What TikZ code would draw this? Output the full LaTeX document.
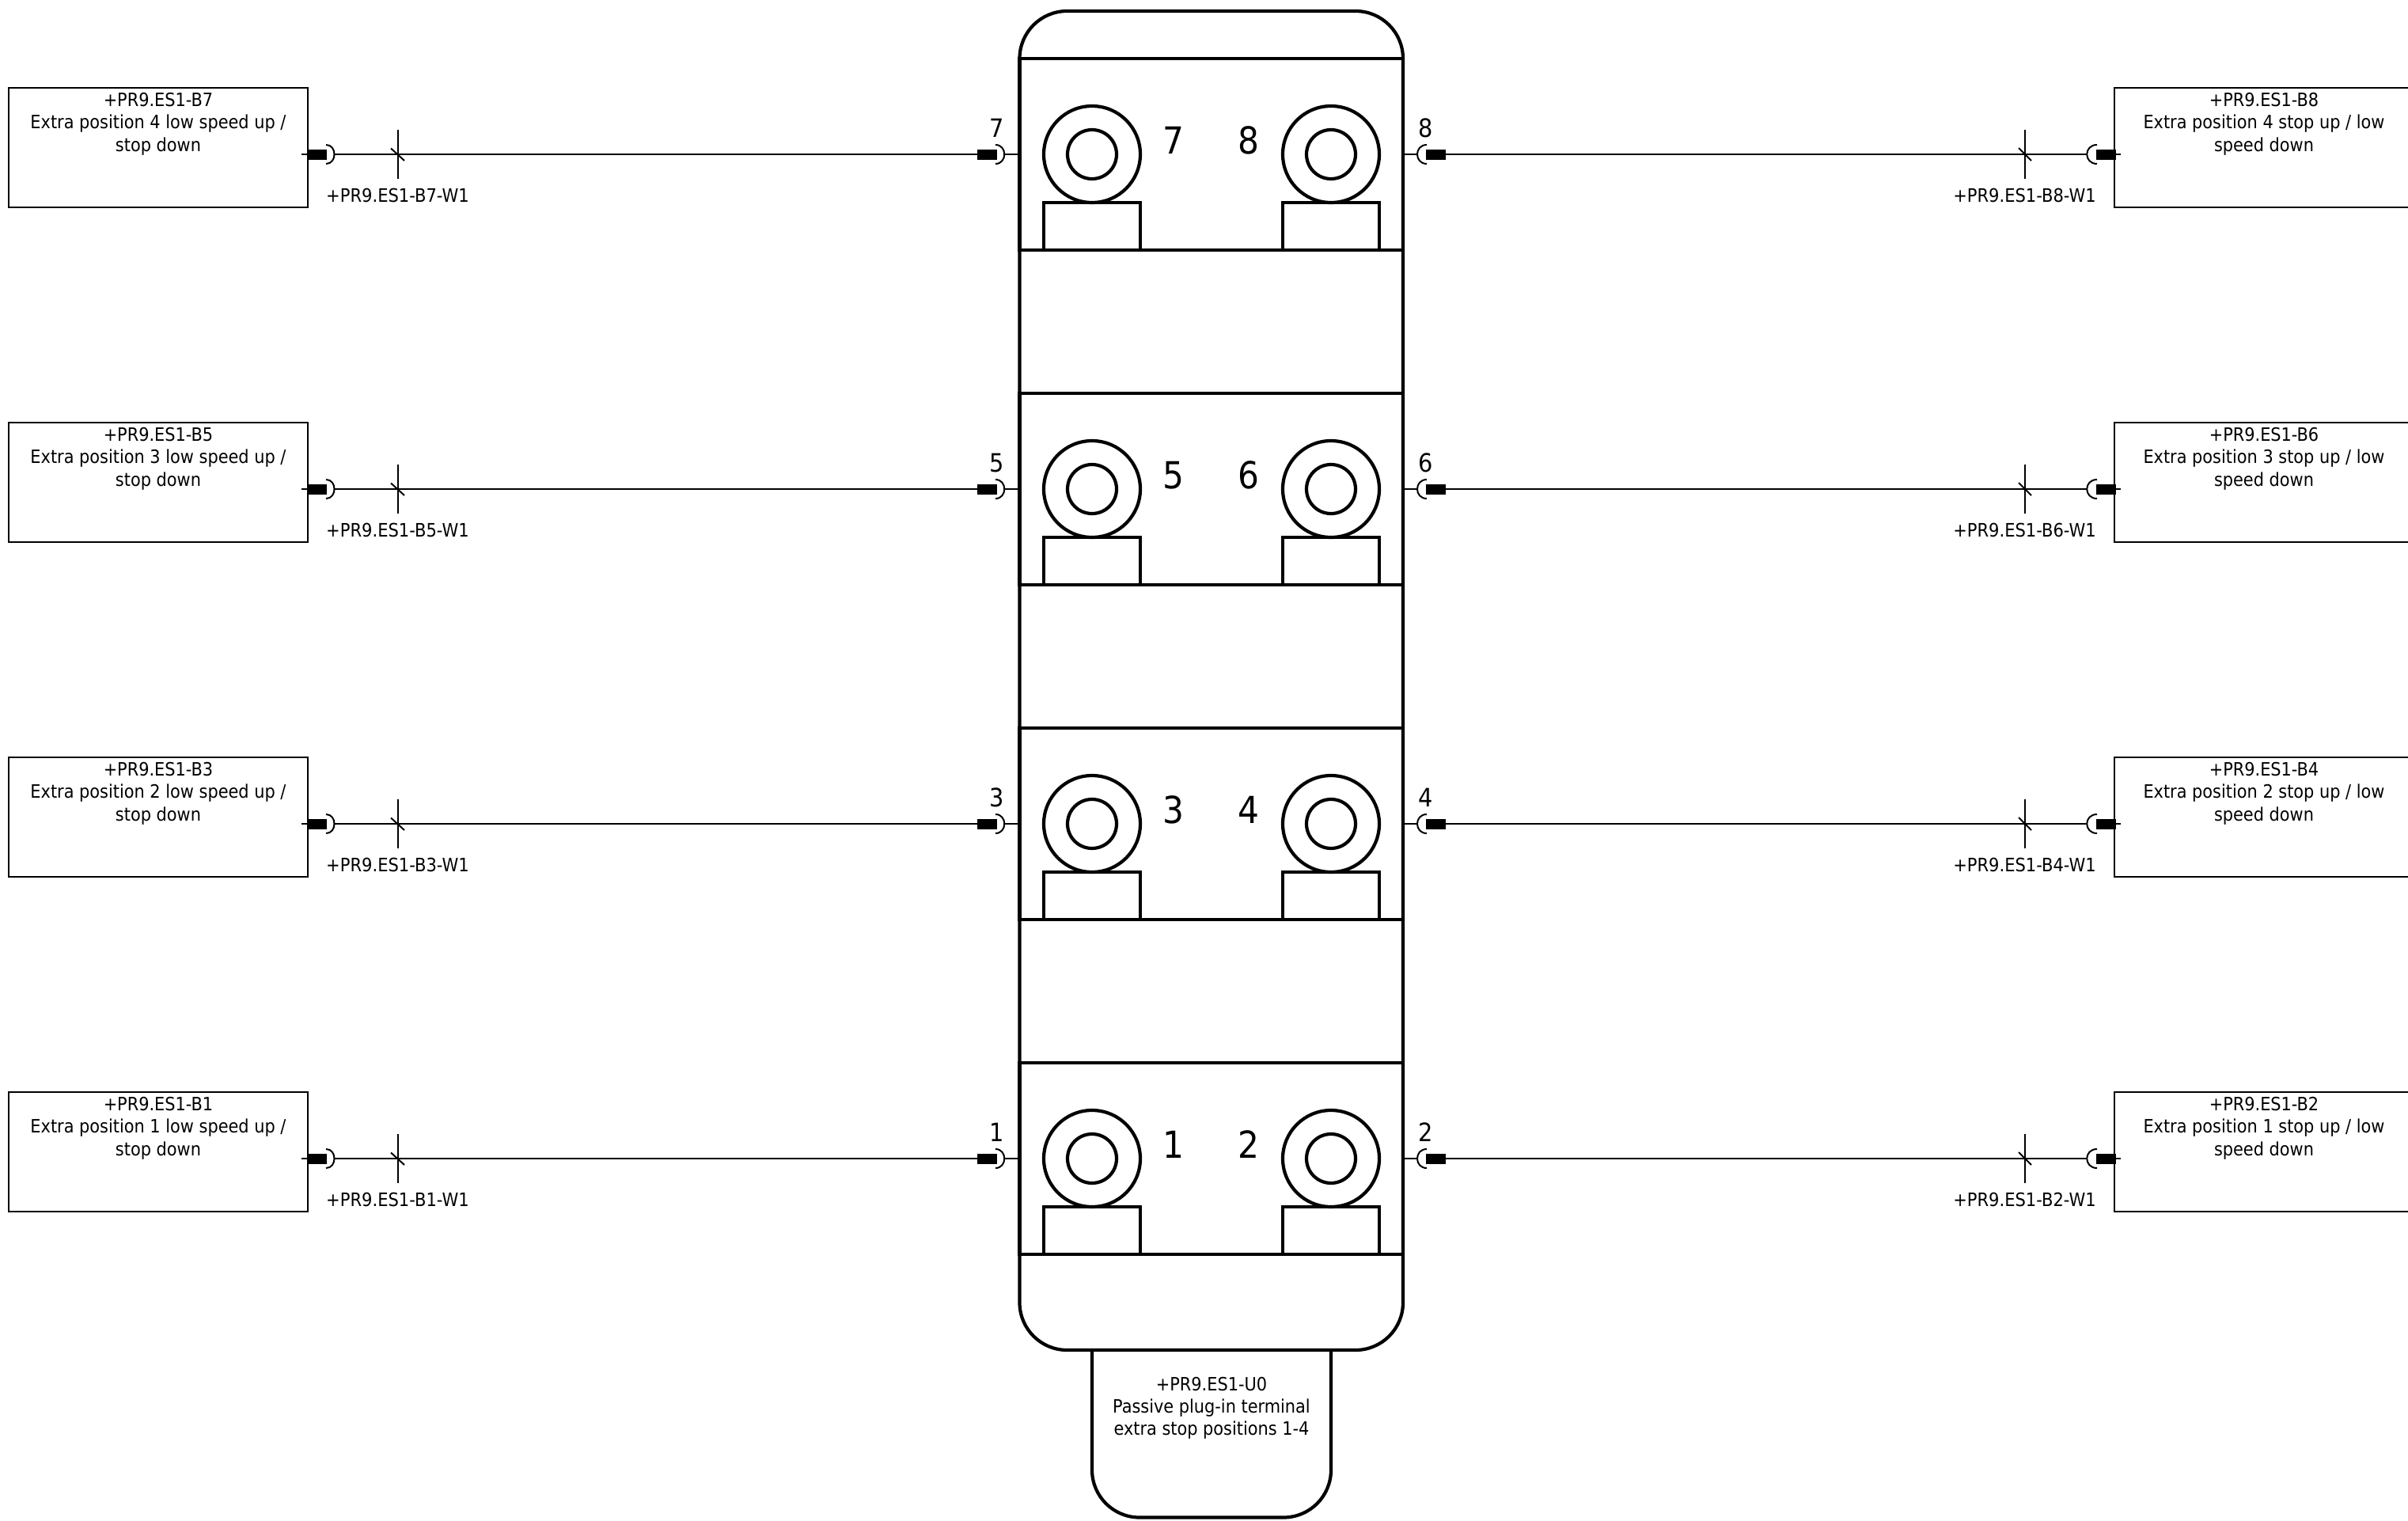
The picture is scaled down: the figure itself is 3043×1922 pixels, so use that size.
\documentclass[tikz,border=0pt]{standalone}
\usepackage{fontspec}
\setmainfont{DejaVu Sans Condensed}
\tikzset{
  every node/.style={outer sep=0pt},
  heavy/.style={draw=black,line width=2.1pt},
  medium/.style={draw=black,line width=1.4pt},
  wire/.style={draw=black,line width=1pt},
  sensor/.style={medium,rectangle,inner sep=0pt,minimum width=189pt,minimum height=75.5pt,anchor=north west},
  section/.style={heavy,rectangle,inner sep=0pt,minimum width=242.25pt,minimum height=121pt,anchor=north west},
  seat/.style={heavy,rectangle,inner sep=0pt,minimum width=61pt,minimum height=30pt,anchor=north},
  ring/.style={heavy,circle,inner sep=0pt,fill=white,minimum size=#1},
  plug/.style={draw=none,fill=black,rectangle,inner sep=0pt,minimum width=12.5pt,minimum height=6.5pt},
  txt/.style={inner sep=0pt,align=center,font=\fontsize{11.6}{14.25}\selectfont,anchor=north},
  cablelabel/.style={inner sep=0pt,font=\fontsize{11.7}{14.25}\selectfont,anchor=base},
  smallnum/.style={inner sep=0pt,font=\fontsize{16}{18}\selectfont,anchor=base},
  bignum/.style={inner sep=0pt,font=\fontsize{23.5}{26}\selectfont,anchor=base}
}
\begin{document}
\begin{tikzpicture}[x=0.5pt,y=-0.5pt]
\useasboundingbox (0,0) rectangle (3043,1922);
\clip (0,0) rectangle (3043,1922);
% terminal under the body
\draw[heavy,rounded corners=30pt] (1380,1706) -- (1380,1917.5) -- (1682,1917.5) -- (1682,1706);
\node[txt,font=\fontsize{11.6}{14}\selectfont] (u0) at (1531,1740) {+PR9.ES1-U0\\Passive plug-in terminal\\extra stop positions 1-4};
% body
\node[heavy,rectangle,rounded corners=30pt,inner sep=0pt,minimum width=242.25pt,minimum height=846pt,anchor=north west] (body) at (1288.5,14) {};
\foreach \a/\b/\y/\p/\tl/\tr in {
  7/8/195/4/{Extra position 4 low speed up /\\stop down}/{Extra position 4 stop up / low\\speed down},
  5/6/618/3/{Extra position 3 low speed up /\\stop down}/{Extra position 3 stop up / low\\speed down},
  3/4/1041/2/{Extra position 2 low speed up /\\stop down}/{Extra position 2 stop up / low\\speed down},
  1/2/1464/1/{Extra position 1 low speed up /\\stop down}/{Extra position 1 stop up / low\\speed down}}{
  % section of the body
  \node[section] (sec\a) at (1288.5,\y-121) {};
  \node[seat] (seatL\a) at (1380,\y+61) {};
  \node[seat] (seatR\b) at (1682,\y+61) {};
  \node[ring=61pt] (ringL\a) at (1380,\y) {};
  \node[ring=31pt] (holeL\a) at (1380,\y) {};
  \node[ring=61pt] (ringR\b) at (1682,\y) {};
  \node[ring=31pt] (holeR\b) at (1682,\y) {};
  \node[bignum] (numL\a) at (1483,\y-1) {\a};
  \node[bignum] (numR\b) at (1578,\y-1) {\b};
  % left sensor
  \node[sensor] (box\a) at (11,\y-84) {};
  \node[txt] (txt\a) at (200,\y-78) {+PR9.ES1-B\a\\\tl};
  \coordinate (stubL\a) at (381,\y);
  \node[plug] (plugL\a) at (400.5,\y) {};
  \coordinate (sockL\a) at (423,\y);
  \coordinate (tickL\a) at (502.5,\y);
  \node[plug] (plugM\a) at (1247,\y) {};
  \coordinate (sockM\a) at (1270,\y);
  \coordinate (wallL\a) at (1288.5,\y);
  \draw[wire] (stubL\a) -- (plugL\a.west);
  \draw[wire] (sockL\a) -- (plugM\a);
  \draw[wire] (sockM\a) -- (wallL\a);
  \draw[wire] (412,\y-12) .. controls (426,\y-12) and (426,\y+12) .. (412,\y+12);
  \draw[wire] (1258,\y-12) .. controls (1273,\y-12) and (1273,\y+12) .. (1258,\y+12);
  \draw[wire] (502.5,\y-31) -- (502.5,\y+31);
  \draw[wire] (494,\y-7.5) -- (511,\y+8);
  \node[cablelabel] (lblL\a) at (502.5,\y+60) {+PR9.ES1-B\a-W1};
  \node[smallnum] (pinL\a) at (1260,\y-22) {\a};
  % right sensor
  \node[sensor] (box\b) at (2672,\y-84) {};
  \node[txt] (txt\b) at (2861,\y-78) {+PR9.ES1-B\b\\\tr};
  \coordinate (stubR\b) at (2680,\y);
  \node[plug] (plugR\b) at (2661,\y) {};
  \coordinate (sockR\b) at (2637,\y);
  \coordinate (tickR\b) at (2558.5,\y);
  \node[plug] (plugN\b) at (1814,\y) {};
  \coordinate (sockN\b) at (1791,\y);
  \coordinate (wallR\b) at (1773,\y);
  \draw[wire] (stubR\b) -- (plugR\b.east);
  \draw[wire] (sockR\b) -- (plugN\b);
  \draw[wire] (sockN\b) -- (wallR\b);
  \draw[wire] (2650,\y-12) .. controls (2633,\y-12) and (2633,\y+12) .. (2650,\y+12);
  \draw[wire] (1803,\y-12) .. controls (1787,\y-12) and (1787,\y+12) .. (1803,\y+12);
  \draw[wire] (2558.5,\y-31) -- (2558.5,\y+31);
  \draw[wire] (2551,\y-8) -- (2567,\y+8);
  \node[cablelabel] (lblR\b) at (2558.5,\y+60) {+PR9.ES1-B\b-W1};
  \node[smallnum] (pinR\b) at (1802,\y-22) {\b};
}
\end{tikzpicture}
\end{document}
